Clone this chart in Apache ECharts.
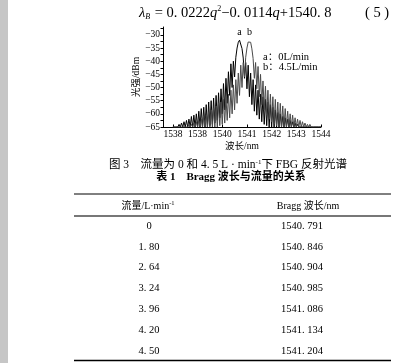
<!DOCTYPE html>
<html><head><meta charset="utf-8">
<script src="https://cdn.jsdelivr.net/npm/echarts@6/dist/echarts.min.js"></script>
<style>html,body{margin:0;padding:0;background:#fff}#c{width:412px;height:363px}</style>
</head><body><div id="c"></div>
<script>
const wavelength = [
1538.00,1538.05,1538.10,1538.15,1538.20,1538.25,1538.30,1538.35,1538.40,1538.45,1538.50,1538.55,1538.60,1538.65,1538.70,1538.75,1538.80,1538.85,1538.90,1538.95,
1539.00,1539.05,1539.10,1539.15,1539.20,1539.25,1539.30,1539.35,1539.40,1539.45,1539.50,1539.55,1539.60,1539.65,1539.70,1539.75,1539.80,1539.85,1539.90,1539.95,
1540.00,1540.05,1540.10,1540.15,1540.20,1540.25,1540.30,1540.35,1540.40,1540.45,1540.50,1540.55,1540.60,1540.65,1540.70,1540.75,1540.80,1540.85,1540.90,1540.95,
1541.00,1541.05,1541.10,1541.15,1541.20,1541.25,1541.30,1541.35,1541.40,1541.45,1541.50,1541.55,1541.60,1541.65,1541.70,1541.75,1541.80,1541.85,1541.90,1541.95,
1542.00,1542.05,1542.10,1542.15,1542.20,1542.25,1542.30,1542.35,1542.40,1542.45,1542.50,1542.55,1542.60,1542.65,1542.70,1542.75,1542.80,1542.85,1542.90,1542.95,
1543.00,1543.05,1543.10,1543.15,1543.20,1543.25,1543.30,1543.35,1543.40,1543.45,1543.50,1543.55,1543.60,1543.65,1543.70,1543.75,1543.80,1543.85,1543.90,1543.95,
1544.00];
// curve a : 0 L/min
const powerA = [
-65,-65,-65,-64.5,-65,-64,-65,-63.5,-65,-63,-65,-62.5,-65,-62,-65,-61,-65,-60.5,-65,-60,
-65,-59,-65,-58,-65,-57.5,-65,-56.5,-65,-55.5,-64.5,-55,-64,-54,-63.5,-53,-62.5,-52,-61.5,-50.5,
-60,-48.5,-58.5,-46.5,-56,-44,-53,-41,-50,-40,-46,-38.5,-35,-32.8,-32,-32.6,-35.2,-38.8,-46.5,-40.5,
-50.5,-41.5,-53.5,-44.5,-56.5,-47,-59,-49,-60.5,-51,-62,-52.5,-63,-53.5,-64,-54.5,-64.5,-55.5,-65,-56.5,
-65,-57.5,-65,-58.5,-65,-59.5,-65,-60,-65,-61,-65,-61.5,-65,-62,-65,-62.5,-65,-63,-65,-63.5,
-65,-64,-65,-64.5,-65,-65,-65,-65,-65,-65,-65,-65,-65,-65,-65,-65,-65,-65,-65,-65,
-65];
// curve b : 4.5 L/min
const powerB = [
-65,-65,-65,-65,-65,-65,-65,-65,-65,-65,-65,-64.5,-65,-64,-65,-64,-65,-63.5,-65,-63,
-65,-62.5,-65,-62,-65,-61,-65,-60.5,-65,-59.5,-65,-58.5,-65,-58,-65,-57,-65,-56,-64.5,-55.5,
-64,-54.5,-63.5,-53.5,-62.5,-52.5,-61.5,-51,-60,-49,-58.5,-47,-56,-44.5,-53,-41.5,-50,-40.5,-46,-38.5,
-35,-32.7,-32,-32.8,-35.3,-39,-46.5,-40.5,-50.5,-42,-53.5,-45,-56.5,-47.5,-58.5,-49.5,-60.5,-51,-62,-52.5,
-63,-53.5,-64,-54.5,-64.5,-55.5,-65,-56,-65,-57,-65,-58,-65,-59,-65,-60,-65,-60.5,-65,-61.5,
-65,-62,-65,-62.5,-65,-63,-65,-63.5,-65,-64,-65,-64,-65,-64.5,-65,-65,-65,-65,-65,-65,
-65];
const seriesNames = ['a', 'b'];
const legendLines = ['a：0L/min', 'b：4.5L/min'];
const xTickValues = [1538, 1539, 1540, 1541, 1542, 1543, 1544];
const xTickLabels = ['1538', '1538', '1540', '1541', '1542', '1543', '1544'];
const yTickValues = [-65, -60, -55, -50, -45, -40, -35, -30];
const yTickLabels = ['−65', '−60', '−55', '−50', '−45', '−40', '−35', '−30'];
const yMinorTicks = [-65, -62.5, -60, -57.5, -55, -52.5, -50, -47.5, -45, -42.5, -40, -37.5, -35, -32.5, -30, -27.5];
const tableHeaders = ['流量/L·min', 'Bragg 波长/nm'];
const flowRates = ['0', '1. 80', '2. 64', '3. 24', '3. 96', '4. 20', '4. 50'];
const braggWavelengths = ['1540. 791', '1540. 846', '1540. 904', '1540. 985', '1541. 086', '1541. 134', '1541. 204'];

const SERIF = "'Liberation Serif','Noto Sans CJK SC',serif";
const chart = echarts.init(document.getElementById('c'), null, {renderer: 'canvas'});

const graphics = [
  {type: 'rect', left: 0, top: 0, shape: {width: 8, height: 363}, style: {fill: '#c6c6c6'}, silent: true},
  {type: 'text', x: 139, y: 13, style: {
    text: '{l|λ}{s|B}{n| = 0. 0222}{l|q}{p|2}{n|−0. 0114}{l|q}{n|+1540. 8}',
    textVerticalAlign: 'middle', fill: '#000',
    rich: {
      l: {fontFamily: SERIF, fontStyle: 'italic', fontSize: 14.5, fill: '#000'},
      s: {fontFamily: SERIF, fontStyle: 'italic', fontSize: 8, fill: '#000', padding: [8, 1, 0, 0]},
      n: {fontFamily: SERIF, fontSize: 14.5, fill: '#000'},
      p: {fontFamily: SERIF, fontSize: 8, fill: '#000', padding: [0, 0, 8, 0]}
    }}},
  {type: 'text', x: 377, y: 13, style: {text: '( 5 )', font: "14.5px " + SERIF, fill: '#000', textAlign: 'center', textVerticalAlign: 'middle'}},
  {type: 'text', x: 228, y: 165, style: {
    text: '{n|图 3　流量为 0 和 4. 5 L · min}{p|-1}{n|下 FBG 反射光谱}',
    textAlign: 'center', textVerticalAlign: 'middle',
    rich: {n: {fontFamily: SERIF, fontSize: 11.5, fill: '#000'}, p: {fontFamily: SERIF, fontSize: 7, fill: '#000', padding: [0, 0, 6, 0]}}}},
  {type: 'text', x: 231, y: 177, style: {text: '表 1　Bragg 波长与流量的关系', font: "bold 11px " + SERIF, fill: '#000', textAlign: 'center', textVerticalAlign: 'middle'}},
  {type: 'line', shape: {x1: 74, y1: 194, x2: 391, y2: 194}, style: {stroke: '#000', lineWidth: 1}},
  {type: 'line', shape: {x1: 74, y1: 216, x2: 391, y2: 216}, style: {stroke: '#777', lineWidth: 2}},
  {type: 'line', shape: {x1: 74, y1: 360.5, x2: 391, y2: 360.5}, style: {stroke: '#000', lineWidth: 1.5}},
  {type: 'text', x: 148, y: 206, style: {
    text: '{n|' + tableHeaders[0] + '}{p|-1}', textAlign: 'center', textVerticalAlign: 'middle',
    rich: {n: {fontFamily: SERIF, fontSize: 10, fill: '#000'}, p: {fontFamily: SERIF, fontSize: 6.5, fill: '#000', padding: [0, 0, 6, 0]}}}},
  {type: 'text', x: 308, y: 206, style: {text: tableHeaders[1], font: "10px " + SERIF, fill: '#000', textAlign: 'center', textVerticalAlign: 'middle'}}
];
flowRates.forEach((f, i) => {
  const y = 226 + i * 20.8;
  graphics.push({type: 'text', x: 149, y: y, style: {text: f, font: "10.5px " + SERIF, fill: '#000', textAlign: 'center', textVerticalAlign: 'middle'}});
  graphics.push({type: 'text', x: 302, y: y, style: {text: braggWavelengths[i], font: "10.5px " + SERIF, fill: '#000', textAlign: 'center', textVerticalAlign: 'middle'}});
});
legendLines.forEach((t, i) => {
  graphics.push({type: 'text', x: 263, y: 57 + i * 10.5, style: {text: t, font: "10.5px " + SERIF, fill: '#000', textVerticalAlign: 'middle'}});
});

const colors = ['#000', '#4a4a4a'];
const powers = [powerA, powerB];

chart.setOption({
  animation: false,
  backgroundColor: '#fff',
  grid: {left: 163, right: 91, top: 27, bottom: 236, containLabel: false},
  xAxis: {
    type: 'value', min: 1537.6, max: 1544,
    axisLine: {lineStyle: {color: '#000', width: 1}},
    axisTick: {show: true, inside: true, length: 2.5, customValues: xTickValues, lineStyle: {color: '#000'}},
    axisLabel: {customValues: xTickValues, formatter: v => xTickLabels[xTickValues.indexOf(v)], color: '#000', fontFamily: SERIF, fontSize: 9.5, margin: 3},
    splitLine: {show: false},
    name: '波长/nm', nameLocation: 'middle', nameGap: 15,
    nameTextStyle: {color: '#000', fontFamily: SERIF, fontSize: 9.5}
  },
  yAxis: {
    type: 'value', min: -65, max: -27,
    axisLine: {show: true, lineStyle: {color: '#000', width: 1}},
    axisTick: {show: true, inside: false, length: 2.5, customValues: yMinorTicks, lineStyle: {color: '#000'}},
    axisLabel: {customValues: yTickValues, formatter: v => yTickLabels[yTickValues.indexOf(v)], color: '#000', fontFamily: SERIF, fontSize: 9.5, margin: 3},
    splitLine: {show: false},
    name: '光强/dBm', nameLocation: 'middle', nameGap: 13,
    nameTextStyle: {color: '#000', fontFamily: SERIF, fontSize: 9.5}
  },
  graphic: graphics,
  series: seriesNames.map((n, s) => ({
    name: n, type: 'line', showSymbol: false, symbol: 'none',
    data: wavelength.map((w, i) => [w, powers[s][i]]),
    lineStyle: {color: colors[s], width: 1},
    markPoint: {
      symbol: 'circle', symbolSize: 0,
      data: [{type: 'max'}],
      label: {show: true, position: 'top', distance: 3, formatter: n, color: '#000', fontFamily: SERIF, fontSize: 10}
    }
  }))
});
</script></body></html>
